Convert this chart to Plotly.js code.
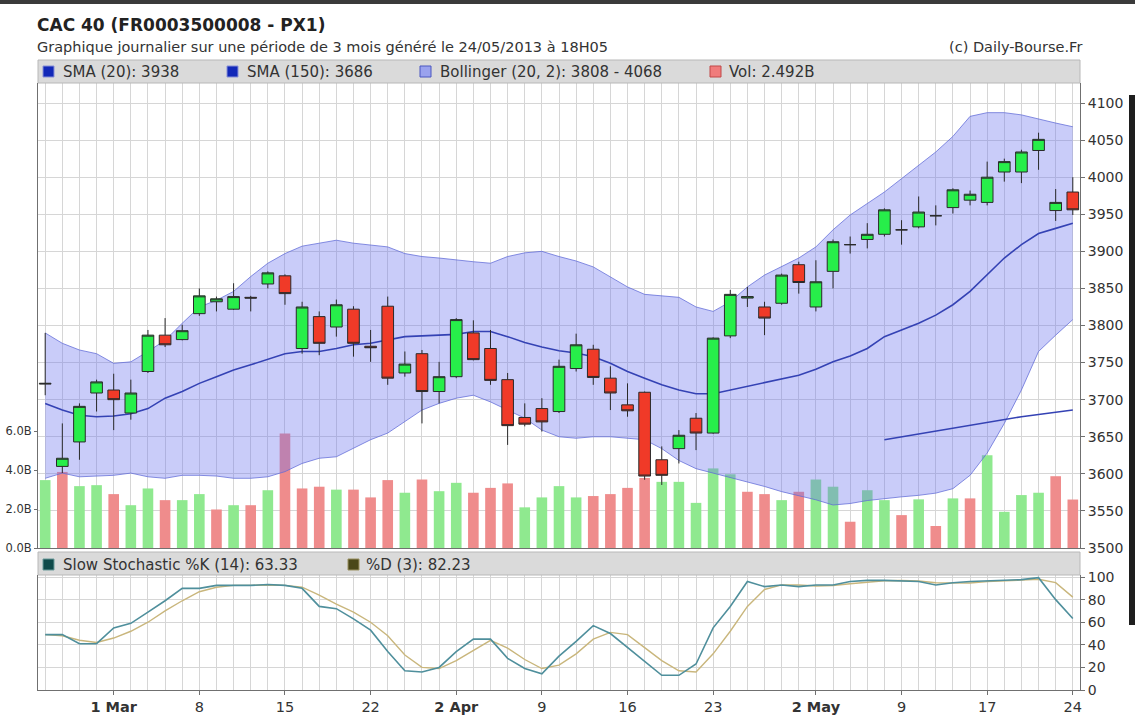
<!DOCTYPE html>
<html>
<head>
<meta charset="utf-8">
<script src="https://cdn.plot.ly/plotly-3.0.1.min.js"></script>
<style>
html,body{margin:0;padding:0;background:#fff;}
#chart{width:1135px;height:720px;}
</style>
</head>
<body>
<div id="chart"></div>
<script>
// ---------- DATA (trading-day index 0..60, 25 Feb -> 24 May 2013) ----------
const tickIdx    = [4, 9, 14, 19, 24, 29, 34, 39, 45, 50, 55, 60];
const tickLabels = ['<b>1 Mar</b>', '8', '15', '22', '<b>2 Apr</b>', '9', '16', '23', '<b>2 May</b>', '9', '17', '24'];

const openP  = [3721,3610,3643,3709,3713,3682,3738,3787,3781,3816,3832,3822,3838,3856,3867,3769,3812,3798,3822,3772,
                3826,3736,3762,3711,3731,3790,3769,3727,3676,3688,3684,3742,3768,3729,3693,3710,3619,3634,3675,3655,
                3786,3837,3825,3830,3882,3825,3873,3909,3916,3923,3929,3933,3948,3959,3969,3966,4007,4007,4036,3955,3980];
const highP  = [3790,3668,3695,3727,3735,3727,3794,3810,3801,3850,3839,3857,3840,3873,3869,3832,3819,3835,3826,3794,
                3839,3765,3767,3751,3810,3807,3794,3736,3695,3702,3754,3789,3774,3745,3722,3711,3637,3659,3682,3784,
                3848,3852,3832,3870,3886,3888,3916,3920,3938,3958,3942,3974,3962,3985,3982,4021,4025,4037,4060,3984,4000];
const lowP   = [3706,3601,3619,3684,3659,3673,3736,3771,3780,3813,3819,3821,3819,3850,3828,3762,3760,3785,3758,3751,
                3720,3731,3668,3695,3729,3753,3720,3639,3664,3657,3682,3738,3720,3686,3677,3592,3585,3614,3632,3654,
                3783,3825,3787,3828,3843,3819,3850,3897,3904,3920,3909,3931,3935,3951,3962,3962,3994,3992,4010,3941,3949];
const closeP = [3722,3621,3691,3724,3700,3709,3787,3774,3793,3840,3836,3839,3837,3871,3843,3825,3776,3828,3776,3770,
                3729,3748,3711,3731,3808,3754,3726,3665,3667,3670,3745,3774,3730,3709,3685,3597,3598,3652,3655,3783,
                3842,3839,3810,3868,3858,3859,3913,3909,3923,3956,3929,3953,3948,3983,3977,4000,4021,4034,4051,3966,3956];

const volumeB = [3.49,3.91,3.18,3.23,2.77,2.20,3.06,2.46,2.46,2.77,1.98,2.20,2.20,2.97,5.88,3.06,3.15,3.00,3.00,2.60,
                 3.49,2.84,3.52,2.92,3.35,2.84,3.09,3.32,2.09,2.60,3.18,2.60,2.67,2.77,3.09,3.60,3.40,3.40,2.32,4.09,
                 3.79,2.89,2.77,2.46,2.89,3.52,3.15,1.35,2.97,2.46,1.69,2.50,1.13,2.55,2.55,4.77,1.86,2.72,2.84,3.69,2.492];

const bbUpper = [3790,3776,3767,3762,3749,3751,3765,3780,3803,3825,3834,3846,3866,3884,3897,3907,3911,3915,3911,3909,
                 3906,3897,3893,3891,3888,3886,3884,3893,3898,3900,3893,3887,3879,3866,3852,3842,3840,3838,3825,3819,
                 3832,3852,3868,3879,3891,3906,3929,3949,3965,3980,3998,4016,4034,4055,4082,4087,4087,4084,4078,4073,4068];
const bbLower = [3594,3601,3596,3597,3598,3601,3596,3594,3598,3598,3597,3594,3594,3596,3603,3614,3621,3623,3634,3646,
                 3655,3670,3686,3695,3702,3706,3697,3686,3675,3659,3650,3648,3650,3650,3648,3646,3634,3618,3607,3601,
                 3596,3589,3583,3576,3571,3565,3558,3560,3564,3567,3569,3571,3574,3580,3598,3628,3668,3713,3765,3787,3808];
const sma20   = [3695,3686,3679,3677,3678,3681,3688,3702,3711,3722,3731,3740,3747,3754,3762,3765,3765,3769,3774,3776,
                 3780,3785,3786,3787,3788,3792,3792,3785,3777,3771,3766,3763,3758,3749,3738,3729,3720,3713,3708,3708,
                 3713,3717,3722,3727,3733,3741,3751,3759,3769,3785,3794,3803,3814,3828,3846,3868,3891,3909,3924,3931,3938];
const sma150Start = 49;
const sma150  = [3646,3650,3654,3658,3662,3665,3669,3673,3677,3680,3683,3686];

const stochK = [49,49,41,41,55,59,69,79,90,90,92.6,92.6,92.6,93.4,92.6,90,74,72,63,53,
                34,17,16,20,34,45,45,28,19,14.4,30,43,57,50,37.5,25,13,13,23,55,
                74,96,91.5,93,91.5,93,93,96,97,97,96.6,96,93,95,96,96.6,96.6,97.7,99.4,80,63.33];
const stochD = [49,48,44,42,46,52,60,70,79,87,91,92.6,92.6,93,92.6,91,84,76,69,60,
                48,31,20,19,26,35,44,37,27,19,22,32,45,51,49,37.5,26,17,16,32,
                52,74,89,93,93,92,92.5,94,95.5,96.7,96.9,96.5,95,94.7,94.7,95.9,96.4,97,98,95,82.23];

const volTickVals = [0, 2, 4, 6];
const volTickText = ['0.0B', '2.0B', '4.0B', '6.0B'];
const legendMain  = ['SMA (20): 3938', 'SMA (150): 3686', 'Bollinger (20, 2): 3808 - 4068', 'Vol: 2.492B'];
const legendStoch = ['Slow Stochastic %K (14): 63.33', '%D (3): 82.23'];
const titleText = 'CAC 40 (FR0003500008 - PX1)';
const subtitleText = 'Graphique journalier sur une période de 3 mois généré le 24/05/2013 à 18H05';
const creditText = '(c) Daily-Bourse.Fr';

// ---------- BUILD ----------
const idx = closeP.map((_, i) => i);
const volColors = closeP.map((c, i) => (i === 0 || c >= closeP[i - 1]) ? '#8fe98f' : '#ef8c8c');
const sma150x = sma150.map((_, i) => sma150Start + i);

// pixel helpers for the page layout (plot area 38..1080 x, 60..690 y)
const L = 38, R = 55, T = 60, B = 30, W = 1135, H = 720;
const pw = W - L - R, ph = H - T - B;
const px = X => (X - L) / pw;
const py = Y => (H - B - Y) / ph;

const priceRange = [3500, 4127];

const traces = [
  { type: 'bar', x: idx, y: volumeB, xaxis: 'x', yaxis: 'y', marker: { color: volColors, line: { width: 0 } },
    width: 0.62, hoverinfo: 'skip' },
  { type: 'scatter', mode: 'lines', x: idx, y: bbUpper, xaxis: 'x', yaxis: 'y2',
    line: { color: 'rgba(95,105,215,0.75)', width: 1 }, hoverinfo: 'skip' },
  { type: 'scatter', mode: 'lines', x: idx, y: bbLower, xaxis: 'x', yaxis: 'y2', fill: 'tonexty',
    fillcolor: 'rgba(105,115,238,0.36)', line: { color: 'rgba(95,105,215,0.75)', width: 1 }, hoverinfo: 'skip' },
  { type: 'scatter', mode: 'lines', x: idx, y: sma20, xaxis: 'x', yaxis: 'y2',
    line: { color: '#3442b4', width: 1.6 }, hoverinfo: 'skip' },
  { type: 'scatter', mode: 'lines', x: sma150x, y: sma150, xaxis: 'x', yaxis: 'y2',
    line: { color: '#3442b4', width: 1.6 }, hoverinfo: 'skip' },
  { type: 'candlestick', x: idx, open: openP, high: highP, low: lowP, close: closeP, xaxis: 'x', yaxis: 'y4',
    whiskerwidth: 0,
    increasing: { line: { color: '#2a2a2a', width: 1 }, fillcolor: '#27ee4a' },
    decreasing: { line: { color: '#2a2a2a', width: 1 }, fillcolor: '#f03a28' },
    hoverinfo: 'skip' },
  { type: 'scatter', mode: 'lines', x: idx, y: stochD, xaxis: 'x2', yaxis: 'y3',
    line: { color: '#c9b67c', width: 1.4 }, hoverinfo: 'skip' },
  { type: 'scatter', mode: 'lines', x: idx, y: stochK, xaxis: 'x2', yaxis: 'y3',
    line: { color: '#4f8f9c', width: 1.6 }, hoverinfo: 'skip' }
];

const gridC = '#d6d6d6';
const axisC = '#707070';
const FF = 'DejaVu Sans';
const fontAx = { family: FF, size: 14, color: '#333' };
const xr = [-0.42, 60.42];

const mainDom = [py(548), py(83)];
const stochDom = [0, py(575)];

const shapes = [
  { type: 'rect', xref: 'paper', yref: 'paper', x0: 0, x1: 1, y0: py(83), y1: py(60),
    fillcolor: '#dadada', line: { color: '#b8b8b8', width: 1 }, layer: 'above' },
  { type: 'rect', xref: 'paper', yref: 'paper', x0: 0, x1: 1, y0: py(575), y1: py(552),
    fillcolor: '#dadada', line: { color: '#b8b8b8', width: 1 }, layer: 'above' },
  { type: 'rect', xref: 'paper', yref: 'paper', x0: px(0), x1: px(1135), y0: py(0), y1: py(4),
    fillcolor: '#3a3a3a', line: { width: 0 } },
  { type: 'rect', xref: 'paper', yref: 'paper', x0: px(1129), x1: px(1135), y0: py(625), y1: py(95),
    fillcolor: '#1e1e1e', line: { width: 0 } }
];

const sqMain = [
  { x: 43, fill: '#1228b8', line: '#8890d8' },
  { x: 227, fill: '#1228b8', line: '#8890d8' },
  { x: 420, fill: '#9aa2ee', line: '#4a56c0' },
  { x: 710, fill: '#f07c7c', line: '#c04848' }
];
const textMainX = [61, 245, 438, 727];
sqMain.forEach(s => shapes.push({ type: 'rect', xref: 'paper', yref: 'paper',
  x0: px(s.x), x1: px(s.x + 11), y0: py(77), y1: py(66), fillcolor: s.fill,
  line: { color: s.line, width: 1 }, layer: 'above' }));
const sqStoch = [
  { x: 43, fill: '#0f4a4a', line: '#6a9a9a' },
  { x: 348, fill: '#4a4818', line: '#9a9060' }
];
const textStochX = [61, 364];
sqStoch.forEach(s => shapes.push({ type: 'rect', xref: 'paper', yref: 'paper',
  x0: px(s.x), x1: px(s.x + 11), y0: py(570), y1: py(559), fillcolor: s.fill,
  line: { color: s.line, width: 1 }, layer: 'above' }));

const annotations = [
  { text: '<b>' + titleText + '</b>', xref: 'paper', yref: 'paper', x: px(35), y: py(25),
    xanchor: 'left', yanchor: 'middle', showarrow: false,
    font: { family: FF, size: 17, color: '#222' } },
  { text: subtitleText, xref: 'paper', yref: 'paper', x: px(35), y: py(47),
    xanchor: 'left', yanchor: 'middle', showarrow: false,
    font: { family: FF, size: 14.5, color: '#333' } },
  { text: creditText, xref: 'paper', yref: 'paper', x: px(1084), y: py(47),
    xanchor: 'right', yanchor: 'middle', showarrow: false,
    font: { family: FF, size: 14.5, color: '#333' } }
];
legendMain.forEach((t, i) => annotations.push({ text: t, xref: 'paper', yref: 'paper',
  x: px(textMainX[i]), y: py(71.5), xanchor: 'left', yanchor: 'middle', showarrow: false,
  font: { family: FF, size: 15, color: '#333' } }));
legendStoch.forEach((t, i) => annotations.push({ text: t, xref: 'paper', yref: 'paper',
  x: px(textStochX[i]), y: py(564.5), xanchor: 'left', yanchor: 'middle', showarrow: false,
  font: { family: FF, size: 15, color: '#333' } }));

const layout = {
  width: W, height: H,
  margin: { l: L, r: R, t: T, b: B, pad: 0 },
  paper_bgcolor: '#ffffff', plot_bgcolor: '#ffffff',
  showlegend: false,
  bargap: 0.38,
  boxgap: 0.32,
  boxgroupgap: 0,
  xaxis: {
    domain: [0, 1], anchor: 'y', range: xr, showticklabels: false,
    tickvals: tickIdx, ticks: '', showgrid: true, gridcolor: gridC, gridwidth: 1,
    minor: { dtick: 1, tick0: 0, showgrid: true, gridcolor: gridC, gridwidth: 1, ticks: '' },
    showline: true, linecolor: axisC, linewidth: 1, zeroline: false,
    rangeslider: { visible: false }, fixedrange: true
  },
  yaxis: {
    domain: mainDom, anchor: 'x', side: 'left', range: [0, 23.9],
    tickvals: volTickVals, ticktext: volTickText,
    ticks: 'outside', ticklen: 3, tickcolor: axisC, showgrid: false, zeroline: false,
    showline: true, linecolor: axisC, linewidth: 1,
    tickfont: { family: FF, size: 11.5, color: '#333' }, fixedrange: true
  },
  yaxis2: {
    domain: mainDom, anchor: 'x', overlaying: 'y', side: 'right', range: priceRange,
    tick0: 3500, dtick: 50, ticks: 'outside', ticklen: 4, tickcolor: axisC,
    showgrid: true, gridcolor: gridC, gridwidth: 1, zeroline: false,
    showline: true, linecolor: axisC, linewidth: 1, tickfont: fontAx, fixedrange: true
  },
  yaxis4: {
    domain: mainDom, anchor: 'x', overlaying: 'y', side: 'right', range: priceRange,
    visible: false, showgrid: false, zeroline: false, fixedrange: true
  },
  xaxis2: {
    domain: [0, 1], anchor: 'y3', range: xr, tickvals: tickIdx, ticktext: tickLabels,
    ticks: 'outside', ticklen: 4, tickcolor: axisC, tickfont: { family: FF, size: 14.5, color: '#333' },
    showgrid: true, gridcolor: gridC, gridwidth: 1,
    minor: { dtick: 1, tick0: 0, showgrid: true, gridcolor: gridC, gridwidth: 1, ticks: '' },
    showline: true, linecolor: axisC, linewidth: 1, zeroline: false, fixedrange: true
  },
  yaxis3: {
    domain: stochDom, anchor: 'x2', side: 'right', range: [0, 101.8],
    tick0: 0, dtick: 20, ticks: 'outside', ticklen: 4, tickcolor: axisC,
    showgrid: true, gridcolor: gridC, gridwidth: 1, zeroline: false,
    showline: true, mirror: true, linecolor: axisC, linewidth: 1, tickfont: fontAx, fixedrange: true
  },
  shapes: shapes,
  annotations: annotations
};

Plotly.newPlot('chart', traces, layout, { staticPlot: true, displayModeBar: false });
</script>
</body>
</html>
